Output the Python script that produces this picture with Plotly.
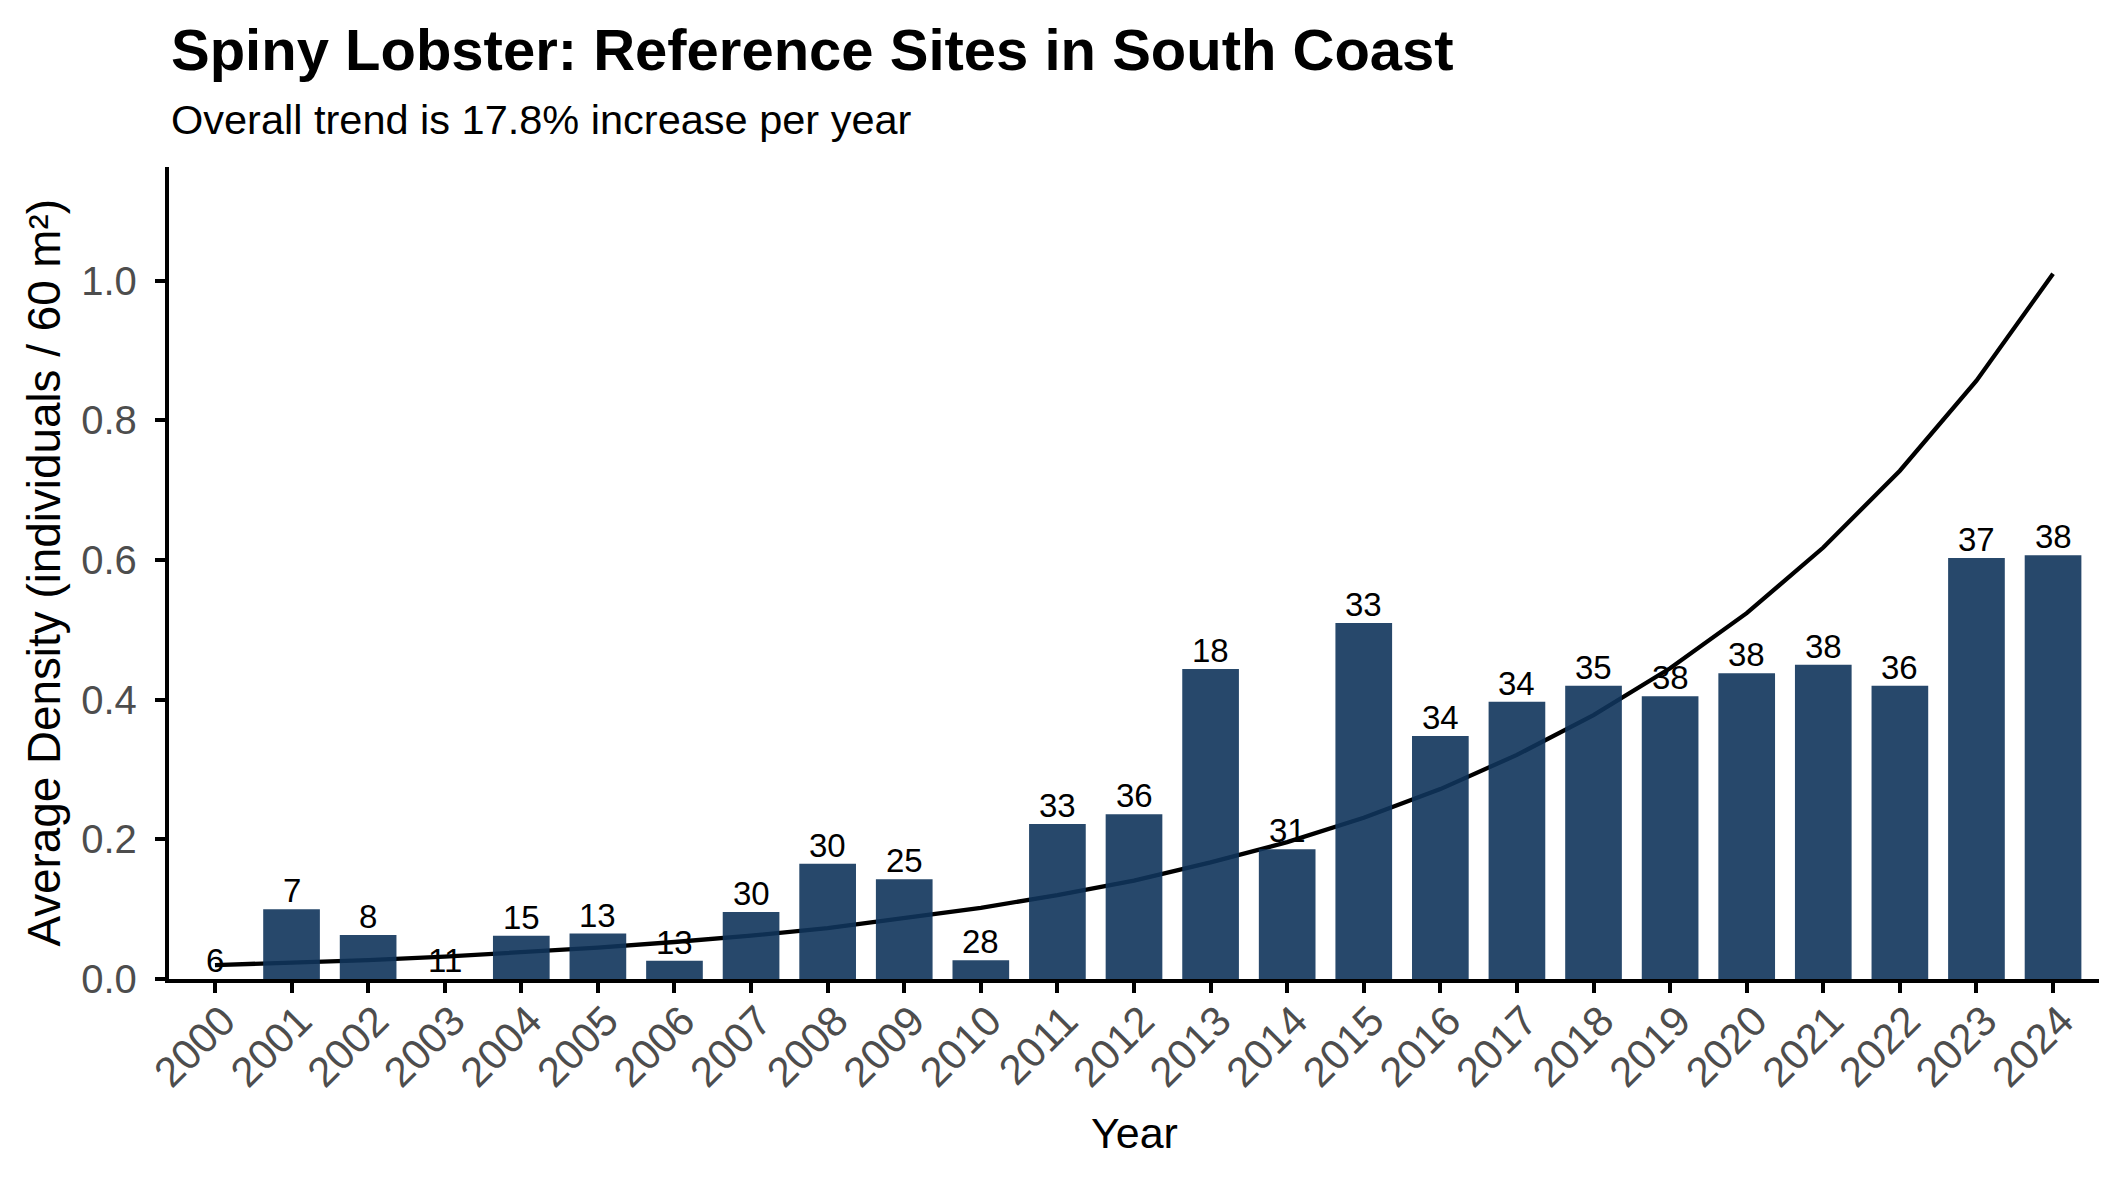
import plotly.graph_objects as go

years = [2000, 2001, 2002, 2003, 2004, 2005, 2006, 2007, 2008, 2009, 2010, 2011, 2012,
         2013, 2014, 2015, 2016, 2017, 2018, 2019, 2020, 2021, 2022, 2023, 2024]
density = [0.0, 0.100, 0.063, 0.0, 0.062, 0.065, 0.026, 0.096, 0.165, 0.143, 0.027, 0.222, 0.236,
           0.444, 0.186, 0.510, 0.348, 0.397, 0.420, 0.405, 0.438, 0.450, 0.420, 0.603, 0.607]
n_sites = [6, 7, 8, 11, 15, 13, 13, 30, 30, 25, 28, 33, 36, 18, 31, 33, 34, 34, 35, 38, 38, 38, 36, 37, 38]
trend = [0.020, 0.023, 0.027, 0.032, 0.038, 0.045, 0.053, 0.062, 0.073, 0.087, 0.102, 0.120, 0.141,
         0.167, 0.196, 0.231, 0.272, 0.321, 0.378, 0.445, 0.524, 0.618, 0.728, 0.857, 1.010]
y_ticks = [0.0, 0.2, 0.4, 0.6, 0.8, 1.0]
y_tick_text = ["0.0", "0.2", "0.4", "0.6", "0.8", "1.0"]
title_text = "Spiny Lobster: Reference Sites in South Coast"
subtitle_text = "Overall trend is 17.8% increase per year"

FONT = "Liberation Sans, Arial, sans-serif"
XR = [1999.4, 2024.6]
YR = [0, 1.163]

fig = go.Figure()
fig.add_trace(go.Scatter(x=years, y=trend, mode="lines",
                         line=dict(color="black", width=4.3), xaxis="x", yaxis="y",
                         hoverinfo="skip", showlegend=False))
fig.add_trace(go.Bar(x=years, y=density, width=0.74, xaxis="x2", yaxis="y2",
                     marker=dict(color="rgba(15,52,91,0.9)", line=dict(width=0)),
                     showlegend=False))

label_annotations = [
    dict(text=str(n), x=yr, y=v, xref="x2", yref="y2", xanchor="center", yanchor="bottom",
         yshift=-2, showarrow=False, font=dict(family=FONT, size=33, color="black"))
    for yr, v, n in zip(years, density, n_sites)
]

fig.update_layout(
    width=2125, height=1181,
    margin=dict(l=169, r=26, t=167, b=202),
    paper_bgcolor="white", plot_bgcolor="white",
    font=dict(family=FONT, color="black"),
    xaxis=dict(range=XR, tickmode="array", tickvals=years, ticktext=[str(y) for y in years],
               tickangle=-45, showgrid=False, zeroline=False,
               showline=True, linecolor="black", linewidth=4.3,
               ticks="outside", ticklen=10, tickwidth=4.3, tickcolor="black",
               ticklabelshift=8, ticklabelstandoff=-14,
               tickfont=dict(family=FONT, size=42, color="#4D4D4D")),
    yaxis=dict(range=YR, tickmode="array", tickvals=y_ticks, ticktext=y_tick_text,
               showgrid=False, zeroline=False,
               showline=True, linecolor="black", linewidth=4.3,
               ticks="outside", ticklen=10, tickwidth=4.3, tickcolor="black",
               ticklabelstandoff=10,
               tickfont=dict(family=FONT, size=40, color="#4D4D4D")),
    xaxis2=dict(range=XR, overlaying="x", visible=False),
    yaxis2=dict(range=YR, overlaying="y", visible=False),
    annotations=[
        dict(text=title_text, xref="paper", yref="paper", x=0, y=(979 - 49) / 812,
             xanchor="left", yanchor="middle", showarrow=False,
             font=dict(family=FONT, size=58, color="black", weight="bold")),
        dict(text=subtitle_text, xref="paper", yref="paper", x=0, y=(979 - 119) / 812,
             xanchor="left", yanchor="middle", showarrow=False,
             font=dict(family=FONT, size=41.5, color="black")),
        dict(text="Year", xref="paper", yref="paper", x=0.5, y=(979 - 1132.5) / 812,
             xanchor="center", yanchor="middle", showarrow=False,
             font=dict(family=FONT, size=43, color="black")),
        dict(text="Average Density (individuals / 60 m²)", xref="paper", yref="paper",
             x=(45 - 169) / 1930, y=0.5006, textangle=-90,
             xanchor="center", yanchor="middle", showarrow=False,
             font=dict(family=FONT, size=45.8, color="black")),
    ] + label_annotations,
)

fig.write_html("out.html")
